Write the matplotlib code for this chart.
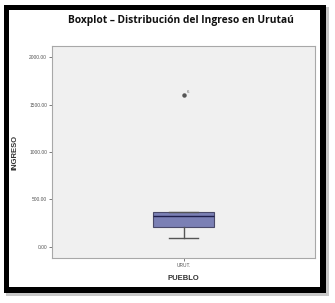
import matplotlib
matplotlib.use("Agg")
import matplotlib.pyplot as plt
from matplotlib.patches import Rectangle

# datos
pueblo = ["URUT."]
q1 = [210]
mediana = [326]
q3 = [368]
minimo = [95]
maximo = [368]
atipicos = [[1600]]
etiqueta_atipico = ["6"]
yticks = [0, 500, 1000, 1500, 2000]

W, H = 335, 303
fig = plt.figure(figsize=(W / 100, H / 100), dpi=100)
fig.patch.set_facecolor("white")

def px(x0, y0, x1, y1, **kw):
    # rectangulo en pixeles de la figura
    return Rectangle((x0 / W, 1 - y1 / H), (x1 - x0) / W, (y1 - y0) / H,
                     transform=fig.transFigure, **kw)

# sombra y marco negro
fig.patches.append(px(6, 7, 329, 296, facecolor="#c8c8c8", edgecolor="none", zorder=0))
fig.patches.append(px(4, 5, 326, 293, facecolor="black", edgecolor="none", zorder=1))
fig.patches.append(px(9, 10, 320, 287, facecolor="white", edgecolor="none", zorder=2))

ax = fig.add_axes([52 / W, 1 - 258 / H, (315 - 52) / W, (258 - 46) / H], zorder=3)
ax.set_facecolor("#f0f0f0")
for s in ax.spines.values():
    s.set_color("#a8a8a8")
    s.set_linewidth(0.8)

stats = []
for i in range(len(pueblo)):
    stats.append(dict(label=pueblo[i], q1=q1[i], med=mediana[i], q3=q3[i],
                      whislo=minimo[i], whishi=maximo[i], fliers=atipicos[i]))

ax.bxp(stats, positions=[1], widths=0.46, patch_artist=True,
       boxprops=dict(facecolor="#7b80b5", edgecolor="#4a4a6a", linewidth=0.8),
       medianprops=dict(color="#1e1e4a", linewidth=1.0),
       whiskerprops=dict(color="#555555", linewidth=1.0),
       capprops=dict(color="#555555", linewidth=1.0),
       capwidths=0.22,
       flierprops=dict(marker="o", markersize=2.2, markerfacecolor="#555555",
                       markeredgecolor="#555555"))

for i in range(len(pueblo)):
    for v in atipicos[i]:
        ax.annotate(etiqueta_atipico[i], (1, v), xytext=(2, 1.5), textcoords="offset points",
                    fontsize=3.2, color="#666666", family="Liberation Sans")

ax.set_xlim(0, 2)
ax.set_ylim(-116, 2116)
ax.set_yticks(yticks)
ax.set_yticklabels(["%.2f" % t for t in yticks])
ax.tick_params(axis="both", labelsize=3.5, length=2.5, width=0.6, color="#666666",
               labelcolor="#555555", pad=1)
for lab in ax.get_xticklabels() + ax.get_yticklabels():
    lab.set_family("Liberation Sans")

ax.set_ylabel("INGRESO", fontsize=5.5, fontweight="bold", color="#333333",
              family="Liberation Sans", labelpad=8)
ax.set_xlabel("PUEBLO", fontsize=5.5, fontweight="bold", color="#333333",
              family="Liberation Sans", labelpad=5)

fig.text(181 / W, 1 - 20 / H, "Boxplot – Distribución del Ingreso en Urutaú",
         ha="center", va="center", fontsize=7.4, fontweight="bold",
         family="Open Sans", color="#111111")

fig.savefig("out.png", dpi=100)
